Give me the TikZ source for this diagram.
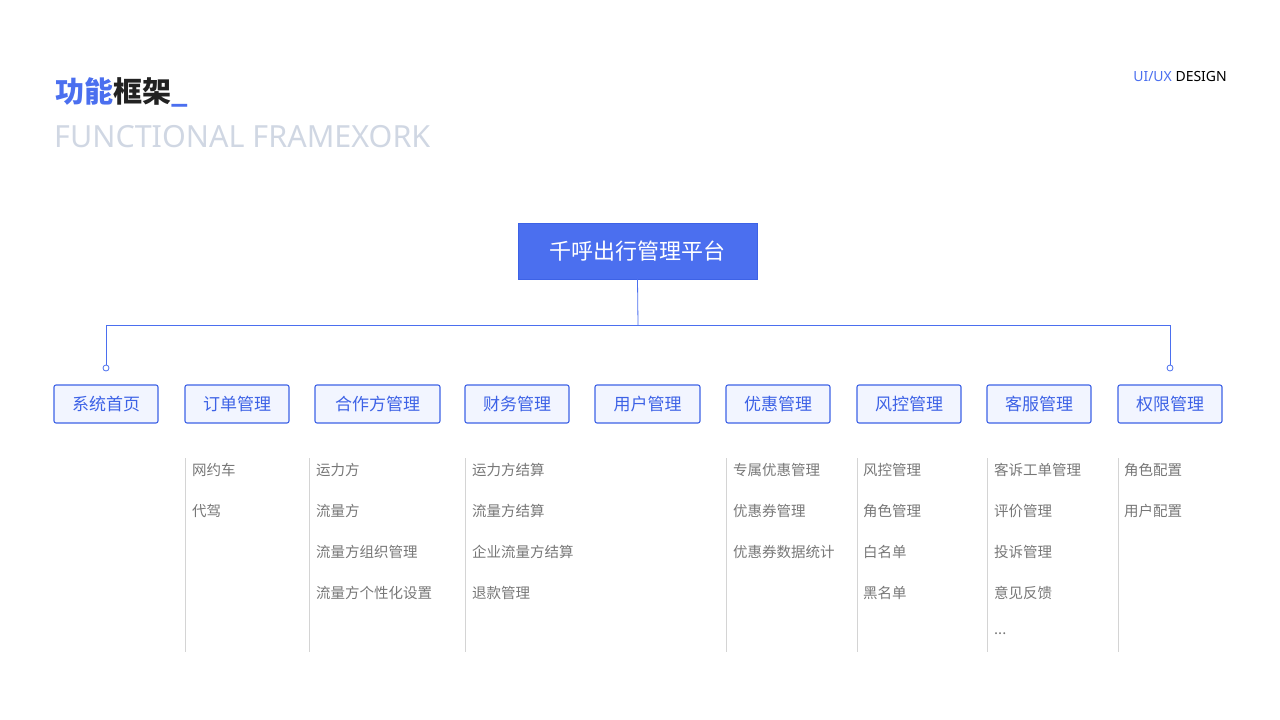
\documentclass[tikz,border=0pt]{standalone}
\usepackage{fontspec}
\setmainfont{Noto Sans}
\newfontfamily\cjk{Noto Sans CJK SC}
\definecolor{blu}{HTML}{4B6FEF}
\definecolor{boxfill}{HTML}{F2F5FF}
\definecolor{boxline}{HTML}{3D62E6}
\definecolor{dark}{HTML}{222222}
\definecolor{ghost}{HTML}{D0D7E3}
\definecolor{itm}{HTML}{777777}
\definecolor{vline}{HTML}{D4D4D4}
\begin{document}
\begin{tikzpicture}[x=1pt,y=-1pt,
  cat/.style={draw=boxline,line width=1.1pt,fill=boxfill,rounded corners=2pt,minimum height=38pt,inner sep=0pt,text=boxline,font=\cjk\fontsize{17}{17}\selectfont},
  item/.style={anchor=west,text=itm,font=\cjk\fontsize{14.5}{15}\selectfont,inner sep=0pt},
  conn/.style={draw=blu,line width=0.8pt},
  col/.style={draw=vline,line width=1pt}]
\useasboundingbox (0,0) rectangle (1280,720);
\node[anchor=base west,inner sep=0pt,font=\cjk\bfseries\fontsize{29}{29}\selectfont] (t1) at (55,102) {\textcolor{blu}{功能}\textcolor{dark}{框架}\textcolor{blu}{ \_}};
\node[anchor=base west,inner sep=0pt,text=ghost,font=\bfseries\fontsize{30.5}{30}\selectfont] (t2) at (54,147) {FUNCTIONAL FRAMEXORK};
\node[anchor=base east,inner sep=0pt,font=\fontsize{14}{14}\selectfont] (t3) at (1227,81) {\textcolor{blu}{UI/UX} \textcolor{black}{DESIGN}};
\node[fill=blu,draw=boxline,minimum width=239pt,minimum height=56pt,inner sep=0pt,text=white,font=\cjk\fontsize{22}{22}\selectfont] (root) at (637.5,251) {千呼出行管理平台};
\node[cat,minimum width=104pt] (c1) at (106,404) {系统首页};
\node[cat,minimum width=104pt] (c2) at (237,404) {订单管理};
\node[cat,minimum width=125pt] (c3) at (377.5,404) {合作方管理};
\node[cat,minimum width=104pt] (c4) at (517,404) {财务管理};
\node[cat,minimum width=105pt] (c5) at (647.5,404) {用户管理};
\node[cat,minimum width=104pt] (c6) at (778,404) {优惠管理};
\node[cat,minimum width=104pt] (c7) at (909,404) {风控管理};
\node[cat,minimum width=104pt] (c8) at (1039,404) {客服管理};
\node[cat,minimum width=104pt] (c9) at (1170,404) {权限管理};
\coordinate (jl) at (106,325);
\coordinate (jr) at (1170,325);
\coordinate (jm) at (638,325);
\node[circle,draw=blu,fill=white,line width=0.8pt,inner sep=0pt,minimum size=6pt] (d1) at (106,368) {};
\node[circle,draw=blu,fill=white,line width=0.8pt,inner sep=0pt,minimum size=6pt] (d2) at (1170,368) {};
\draw[conn] (root.south) -- (jm);
\draw[conn] (d1.north) -- (jl) -- (jr) -- (d2.north);
% columns
\foreach \x/\n in {185/a,309/b,465/c,726/d,857/e,987/f,1118/g}{
  \coordinate (\n0) at (\x,458); \coordinate (\n1) at (\x,652);
  \draw[col] (\n0) -- (\n1);}
\node[item] (i1) at (192,470) {网约车};
\node[item] (i2) at (192,511) {代驾};
\node[item] (i3) at (316,470) {运力方};
\node[item] (i4) at (316,511) {流量方};
\node[item] (i5) at (316,552) {流量方组织管理};
\node[item] (i6) at (316,593) {流量方个性化设置};
\node[item] (i7) at (472,470) {运力方结算};
\node[item] (i8) at (472,511) {流量方结算};
\node[item] (i9) at (472,552) {企业流量方结算};
\node[item] (i10) at (472,593) {退款管理};
\node[item] (i11) at (733,470) {专属优惠管理};
\node[item] (i12) at (733,511) {优惠券管理};
\node[item] (i13) at (733,552) {优惠券数据统计};
\node[item] (i14) at (863,470) {风控管理};
\node[item] (i15) at (863,511) {角色管理};
\node[item] (i16) at (863,552) {白名单};
\node[item] (i17) at (863,593) {黑名单};
\node[item] (i18) at (994,470) {客诉工单管理};
\node[item] (i19) at (994,511) {评价管理};
\node[item] (i20) at (994,552) {投诉管理};
\node[item] (i21) at (994,593) {意见反馈};
\node[item] (i22) at (994,634) {...};
\node[item] (i23) at (1124,470) {角色配置};
\node[item] (i24) at (1124,511) {用户配置};
\end{tikzpicture}
\end{document}
